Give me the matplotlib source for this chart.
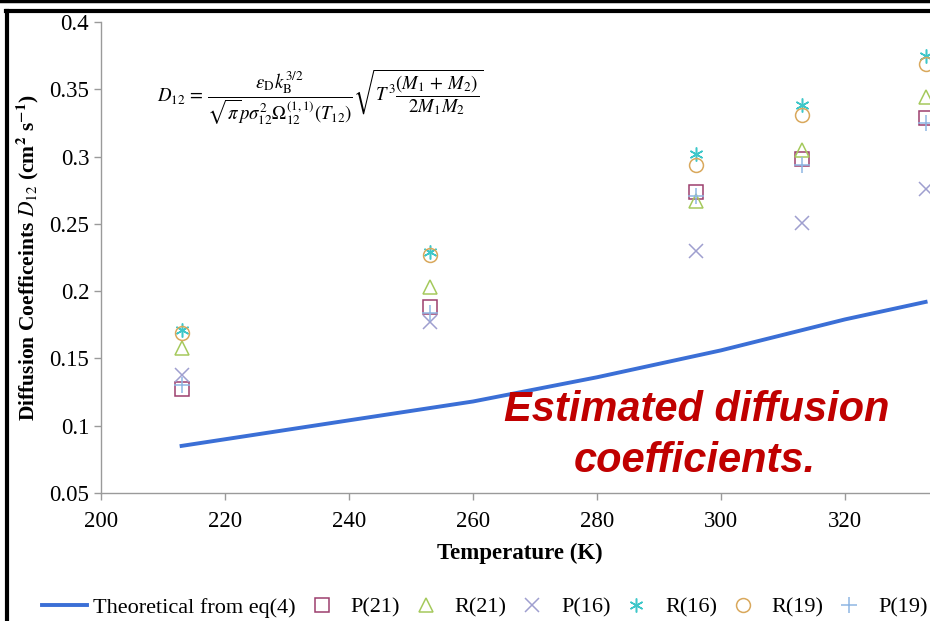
import matplotlib
matplotlib.use("Agg")
import matplotlib.pyplot as plt
from matplotlib.lines import Line2D

plt.rcParams['font.family'] = ['Liberation Serif', 'DejaVu Serif']
plt.rcParams['mathtext.fontset'] = 'stix'

# --------------------------------------
# DATA
# --------------------------------------
temps = [213, 253, 296, 313, 333]

p21 = [0.127, 0.188, 0.274, 0.298, 0.329]
r21 = [0.158, 0.203, 0.267, 0.305, 0.344]
p16 = [0.138, 0.177, 0.230, 0.251, 0.276]
r16 = [0.171, 0.229, 0.302, 0.338, 0.375]
r19 = [0.169, 0.227, 0.294, 0.331, 0.369]
p19 = [0.130, 0.184, 0.271, 0.294, 0.325]

theory_t = [213, 240, 260, 280, 300, 320, 333]
theory_d = [0.085, 0.104, 0.118, 0.136, 0.156, 0.179, 0.192]

x_ticks = [200, 220, 240, 260, 280, 300, 320]
y_ticks = [0.05, 0.1, 0.15, 0.2, 0.25, 0.3, 0.35, 0.4]
y_tick_labels = ["0.05", "0.1", "0.15", "0.2", "0.25", "0.3", "0.35", "0.4"]

# --------------------------------------
# FIGURE
# --------------------------------------
fig = plt.figure(figsize=(9.3, 6.21), dpi=100)
W, H = 930, 621
ax = fig.add_axes([101 / W, 128 / H, 837 / W, 471 / H])

ax.plot(theory_t, theory_d, color="#3b6fd6", lw=2.8, label="Theoretical from eq(4)", zorder=2)

mk = dict(linestyle="none", markersize=10, markerfacecolor="none", markeredgewidth=1.1)
ax.plot(temps, p21, marker="s", color="#9c3f6e", label="P(21)", **mk)
ax.plot(temps, r21, marker="^", color="#a5c95c", label="R(21)", **mk)
ax.plot(temps, p16, marker="x", color="#9f9fcf", label="P(16)", **mk)
ax.plot(temps, r16, marker=(6, 2, 0), color="#3ec7c9", label="R(16)", **mk)
ax.plot(temps, r19, marker="o", color="#d9a85c", label="R(19)", **mk)
ax.plot(temps, p19, marker="+", color="#8fb6e3", label="P(19)", markersize=11, linestyle="none", markeredgewidth=1.1)

ax.set_xlim(200, 335)
ax.set_ylim(0.05, 0.4)
ax.set_xticks(x_ticks)
ax.set_yticks(y_ticks)
ax.set_yticklabels(y_tick_labels)
ax.tick_params(labelsize=16.5, color="#9a9a9a", length=5, width=1)
ax.tick_params(axis="x", pad=8)
for s in ["top", "right"]:
    ax.spines[s].set_visible(False)
for s in ["left", "bottom"]:
    ax.spines[s].set_color("#9a9a9a")
    ax.spines[s].set_linewidth(1.0)

ax.set_xlabel("Temperature (K)", fontsize=16.5, fontweight="bold", labelpad=8)
ax.set_ylabel(r"Diffusion Coefficeints $\boldsymbol{D_{12}}$ (cm$^{\mathbf{2}}$ s$^{\mathbf{-1}}$)",
              fontsize=15.5, fontweight="bold", labelpad=6)

# equation
eq = (r"$D_{12}\, =\, \dfrac{\varepsilon_{\mathrm{D}} k_{\mathrm{B}}^{3/2}}"
      r"{\sqrt{\pi} p \sigma_{12}^{2} \Omega_{12}^{(1,1)}(T_{12})}"
      r"\sqrt{T^{3}\dfrac{(M_1\, +\, M_2)}{2M_1 M_2}}$")
fig.text(320 / W, 1 - 97 / H, eq, fontsize=13.5, ha="center", va="center")

# red annotation
fig.text(697 / W, 1 - 410 / H, "Estimated diffusion", fontsize=30, color="#c00000",
         fontweight="bold", style="italic", family="Liberation Sans", ha="center", va="center")
fig.text(695 / W, 1 - 461 / H, "coefficients.", fontsize=30, color="#c00000",
         fontweight="bold", style="italic", family="Liberation Sans", ha="center", va="center")

# legend
fig.legend(loc="lower left", bbox_to_anchor=(40 / W, 1 - 620 / H, 890 / W, 28 / H), mode="expand",
           ncol=7, frameon=False, fontsize=16, handlelength=2.0, handletextpad=0.3,
           columnspacing=0.6, borderaxespad=0, borderpad=0.1)

# slide border lines
fig.add_artist(Line2D([0, 1], [1 - 1 / H, 1 - 1 / H], color="black", lw=2.5, transform=fig.transFigure))
fig.add_artist(Line2D([6 / W, 1], [1 - 11 / H, 1 - 11 / H], color="black", lw=3, transform=fig.transFigure))
fig.add_artist(Line2D([7 / W, 7 / W], [0, 1 - 11 / H], color="black", lw=3, transform=fig.transFigure))

fig.savefig("out.png", dpi=100)
